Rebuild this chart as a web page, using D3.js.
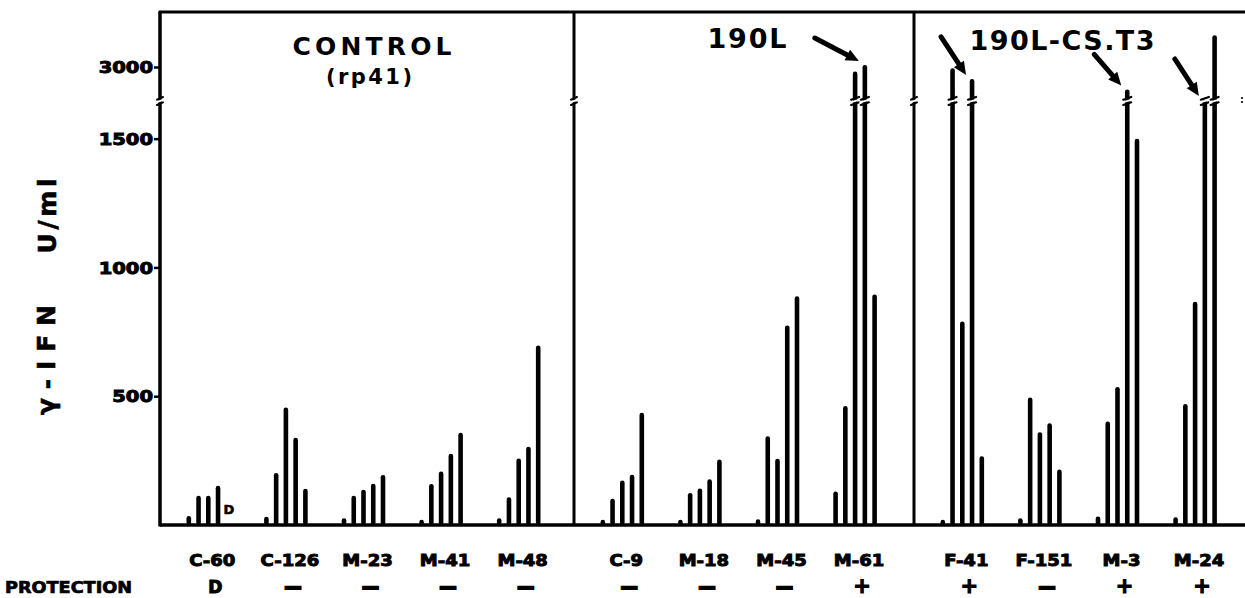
<!DOCTYPE html>
<html><head><meta charset="utf-8">
<script src="https://cdn.jsdelivr.net/npm/d3@7"></script>
<style>
html,body{margin:0;padding:0;background:#fff;}
svg{display:block;}
</style></head>
<body>
<svg id="chart" width="1245" height="598"></svg>
<script>
// ---------------- data ----------------
const panelTitles = ["CONTROL", "190L", "190L-CS.T3"];
const panelSubtitles = ["(rp41)", "", ""];
const groups = [
  ["C-60", "C-126", "M-23", "M-41", "M-48"],
  ["C-9", "M-18", "M-45", "M-61"],
  ["F-41", "F-151", "M-3", "M-24"]
];
const protection = [
  ["D", "—", "—", "—", "—"],
  ["—", "—", "—", "+"],
  ["+", "—", "+", "+"]
];
// five successive measurements per animal (γ-IFN, U/ml)
const values = {
  "C-60":  [35, 114, 114, 152, null],
  "C-126": [32, 202, 456, 339, 141],
  "M-23":  [26, 114, 137, 160, 194],
  "M-41":  [20, 159, 208, 277, 358],
  "M-48":  [26, 108, 258, 304, 697],
  "C-9":   [20, 102, 173, 195, 436],
  "M-18":  [20, 124, 142, 178, 254],
  "M-45":  [22, 345, 257, 775, 888],
  "M-61":  [130, 462, 2930, 3030, 895],
  "F-41":  [20, 2980, 790, 2820, 267],
  "F-151": [26, 495, 360, 395, 215],
  "M-3":   [33, 402, 536, 2660, 1500],
  "M-24":  [30, 470, 867, 2500, 3480]
};
const deadMarks = [["C-60", 4, "D"]];          // animal died before last sample
const arrowTargets = [["M-61", 3], ["F-41", 3], ["M-3", 3], ["M-24", 3]];
const yTicksLower = [500, 1000, 1500];
const yTicksUpper = [3000];
const yTitleParts = ["γ-IFN", "U/ml"];
const protectionLabel = "PROTECTION";

// ---------------- layout ----------------
const svg = d3.select("#chart");
const frameTop = 12, baseY = 525, breakY = 100, rightX = 1245;
const panelEdges = [160, 574, 914, 1245];
const breakVal = 1650;

const yLow = d3.scaleLinear().domain([0, breakVal]).range([baseY, breakY]);
const yHigh = d3.scaleLinear().domain([2500, 3000]).range([breakY, 67]);
const yv = v => v <= breakVal ? yLow(v) : yHigh(v);

const groupStep = 77.6, groupPad = 9.5;
const xGroups = groups.map((g, p) => d3.scaleBand().domain(g)
  .range([panelEdges[p] + groupPad, panelEdges[p] + groupPad + g.length * groupStep]));
const xBar = d3.scalePoint().domain(d3.range(5)).range([-19.5, 19.5]);
function gx(name) {
  for (let p = 0; p < groups.length; p++) {
    if (groups[p].includes(name)) return xGroups[p](name) + xGroups[p].bandwidth() / 2;
  }
}

const heavyFont = "'DejaVu Sans', sans-serif";

function stretch(sel, f) {
  sel.each(function () {
    const L = this.getComputedTextLength();
    d3.select(this).attr("textLength", L * f).attr("lengthAdjust", "spacingAndGlyphs");
  });
}

function breakMark(g, x, y, half, sw) {
  g.append("line").attr("x1", x - half - 1.5).attr("y1", y + 2.6).attr("x2", x + half + 1.5).attr("y2", y - 0.6)
    .attr("stroke", "#fff").attr("stroke-width", 1.8);
  g.append("line").attr("x1", x - half).attr("y1", y + 5).attr("x2", x + half).attr("y2", y + 2.3)
    .attr("stroke", "#000").attr("stroke-width", sw).attr("stroke-linecap", "round");
  g.append("line").attr("x1", x - half).attr("y1", y - 0.3).attr("x2", x + half).attr("y2", y - 3)
    .attr("stroke", "#000").attr("stroke-width", sw).attr("stroke-linecap", "round");
}

// ---------------- frame ----------------
const frame = svg.append("g");
frame.append("line").attr("x1", panelEdges[0] - 1.5).attr("y1", frameTop).attr("x2", rightX).attr("y2", frameTop)
  .attr("stroke", "#000").attr("stroke-width", 3);
frame.append("line").attr("x1", panelEdges[0]).attr("y1", frameTop).attr("x2", panelEdges[0]).attr("y2", baseY + 1.5)
  .attr("stroke", "#000").attr("stroke-width", 3.5);
[panelEdges[1], panelEdges[2]].forEach(x => {
  frame.append("line").attr("x1", x).attr("y1", frameTop).attr("x2", x).attr("y2", baseY)
    .attr("stroke", "#000").attr("stroke-width", 3);
});
frame.append("line").attr("x1", panelEdges[0]).attr("y1", baseY).attr("x2", rightX).attr("y2", baseY)
  .attr("stroke", "#000").attr("stroke-width", 3.5);

// ---------------- axes ----------------
const axG1 = svg.append("g").attr("transform", `translate(${panelEdges[0]},0)`)
  .call(d3.axisLeft(yLow).tickValues(yTicksLower).tickSize(6).tickPadding(1).tickFormat(d3.format("d")));
const axG2 = svg.append("g").attr("transform", `translate(${panelEdges[0]},0)`)
  .call(d3.axisLeft(yHigh).tickValues(yTicksUpper).tickSize(6).tickPadding(1).tickFormat(d3.format("d")));
[axG1, axG2].forEach(a => {
  a.select(".domain").remove();
  a.selectAll(".tick line").attr("stroke", "#000").attr("stroke-width", 2.5);
  a.selectAll(".tick text").attr("fill", "#000").attr("font-family", heavyFont).attr("font-weight", "bold")
    .attr("font-size", 15).attr("stroke", "#000").attr("stroke-width", 0.9).attr("dy", "0.38em");
  stretch(a.selectAll(".tick text"), 1.3);
});

// axis breaks
const brk = svg.append("g");
[panelEdges[0], panelEdges[1], panelEdges[2]].forEach(x => breakMark(brk, x, breakY, 3, 2));
brk.append("circle").attr("cx", 1242).attr("cy", breakY - 2).attr("r", 1.1).attr("fill", "#000");
brk.append("circle").attr("cx", 1242).attr("cy", breakY + 2).attr("r", 1.1).attr("fill", "#000");

// ---------------- bars ----------------
const barData = [];
groups.flat().forEach(name => {
  values[name].forEach((v, i) => { if (v != null) barData.push({ name, i, v }); });
});
const barW = 4.6;
svg.append("g").selectAll("line").data(barData).join("line")
  .attr("x1", d => gx(d.name) + xBar(d.i)).attr("x2", d => gx(d.name) + xBar(d.i))
  .attr("y1", baseY - 2.5).attr("y2", d => Math.min(baseY - 2.5, yv(d.v) + barW / 2))
  .attr("stroke", "#000").attr("stroke-width", barW).attr("stroke-linecap", "round");

// breaks on tall bars
const barBrk = svg.append("g");
barData.filter(d => d.v > breakVal).forEach(d => breakMark(barBrk, gx(d.name) + xBar(d.i), breakY, 4, 2.2));

// "D" marks
svg.append("g").selectAll("text").data(deadMarks).join("text")
  .attr("x", d => gx(d[0]) + xBar(d[1]) + 1).attr("y", baseY - 11)
  .attr("text-anchor", "middle").attr("font-family", heavyFont).attr("font-weight", "bold").attr("font-size", 13)
  .attr("stroke", "#000").attr("stroke-width", 0.6).text(d => d[2]);

// ---------------- arrows ----------------
const arrowTails = [[-44, -23], [-25, -38], [-27, -31], [-24, -37]];
const arrowTipOffset = [-6, -4];
const arrG = svg.append("g");
arrowTargets.forEach((t, k) => {
  const tx = gx(t[0]) + xBar(t[1]) + arrowTipOffset[0];
  const ty = yv(values[t[0]][t[1]]) + arrowTipOffset[1];
  const sx = tx + arrowTails[k][0], sy = ty + arrowTails[k][1];
  const len = Math.hypot(tx - sx, ty - sy), ux = (tx - sx) / len, uy = (ty - sy) / len;
  const hl = 13, hw = 6;
  const bx = tx - ux * hl, by = ty - uy * hl;
  arrG.append("line").attr("x1", sx).attr("y1", sy).attr("x2", bx + ux).attr("y2", by + uy)
    .attr("stroke", "#000").attr("stroke-width", 5).attr("stroke-linecap", "round");
  arrG.append("path").attr("d", `M${tx},${ty} L${bx - uy * hw},${by + ux * hw} L${bx + uy * hw},${by - ux * hw} Z`)
    .attr("fill", "#000");
});

// ---------------- titles ----------------
const titleX = [372, 747, 1062];
const titleY = [55, 48, 50];
const titleSize = [25, 27, 27];
const titleLen = [159, 79, 185];
const tg = svg.append("g");
panelTitles.forEach((t, p) => {
  tg.append("text").attr("x", titleX[p]).attr("y", titleY[p]).attr("text-anchor", "middle")
    .attr("font-family", heavyFont).attr("font-weight", "bold").attr("font-size", titleSize[p])
    .attr("textLength", titleLen[p]).attr("lengthAdjust", "spacing").text(t);
  if (panelSubtitles[p]) {
    tg.append("text").attr("x", 369).attr("y", 84).attr("text-anchor", "middle")
      .attr("font-family", heavyFont).attr("font-weight", "bold").attr("font-size", 21)
      .attr("textLength", 86).attr("lengthAdjust", "spacing").text(panelSubtitles[p]);
  }
});

// ---------------- y title ----------------
const yt = svg.append("g");
yt.append("text").attr("transform", "translate(55,360) rotate(-90)").attr("text-anchor", "middle")
  .attr("font-family", heavyFont).attr("font-weight", "bold").attr("font-size", 25)
  .attr("stroke", "#000").attr("stroke-width", 0.6)
  .attr("textLength", 110).attr("lengthAdjust", "spacing").text(yTitleParts[0]);
yt.append("text").attr("transform", "translate(56,216) rotate(-90)").attr("text-anchor", "middle")
  .attr("font-family", heavyFont).attr("font-weight", "bold").attr("font-size", 25)
  .attr("stroke", "#000").attr("stroke-width", 0.6)
  .attr("textLength", 75).attr("lengthAdjust", "spacing").text(yTitleParts[1]);

// ---------------- group labels & protection ----------------
const lab = svg.append("g");
const gl = lab.selectAll("text.g").data(groups.flat()).join("text").attr("class", "g")
  .attr("x", d => gx(d) + 4).attr("y", 566).attr("text-anchor", "middle")
  .attr("font-family", heavyFont).attr("font-weight", "bold").attr("font-size", 15)
  .attr("stroke", "#000").attr("stroke-width", 0.9).text(d => d);
stretch(gl, 1.2);

const protData = groups.flat().map((g, i) => ({ g, p: protection.flat()[i] }));
lab.selectAll("text.p").data(protData).join("text").attr("class", "p")
  .attr("x", d => gx(d.g) + 7).attr("y", 593).attr("text-anchor", "middle")
  .attr("font-family", heavyFont).attr("font-weight", "bold").attr("font-size", d => d.p === "+" ? 21 : 17)
  .attr("stroke", "#000").attr("stroke-width", d => d.p === "—" ? 1.8 : 1.1).text(d => d.p);

lab.append("text").attr("x", 5).attr("y", 593)
  .attr("font-family", heavyFont).attr("font-weight", "bold").attr("font-size", 16)
  .attr("stroke", "#000").attr("stroke-width", 0.7)
  .attr("textLength", 127).attr("lengthAdjust", "spacingAndGlyphs").text(protectionLabel);
</script>
</body></html>
